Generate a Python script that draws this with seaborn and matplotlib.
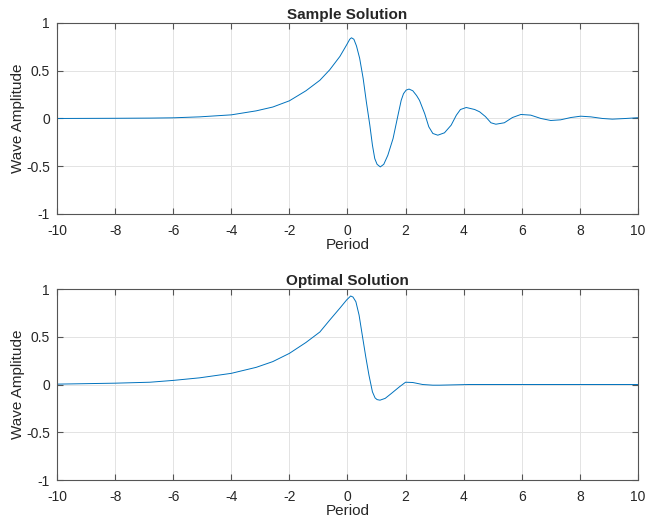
import seaborn as sns
import matplotlib
matplotlib.use('Agg')
import matplotlib.pyplot as plt
import pandas as pd

# values
sample_x = [-10, -8, -6.8, -6, -5.09, -4, -3.14, -2.57, -2, -1.43, -0.95, -0.61, -0.26,
            -0.03, 0.08, 0.137, 0.22, 0.31, 0.42, 0.54, 0.65, 0.77, 0.86, 0.94, 1.02, 1.13,
            1.25, 1.39, 1.57, 1.74, 1.85, 1.93, 2.02, 2.12, 2.25, 2.38, 2.48, 2.66, 2.8,
            2.94, 3.11, 3.34, 3.57, 3.75, 3.89, 4.09, 4.38, 4.55, 4.75, 4.94, 5.11, 5.4,
            5.68, 5.97, 6.31, 6.66, 7.0, 7.34, 7.69, 8.03, 8.38, 8.78, 9.12, 9.58, 10]
sample_y = [0.0, 0.002, 0.004, 0.007, 0.017, 0.038, 0.08, 0.12, 0.185, 0.29, 0.4, 0.51, 0.65,
            0.77, 0.83, 0.845, 0.83, 0.76, 0.63, 0.42, 0.175, -0.07, -0.28, -0.42, -0.48, -0.507,
            -0.48, -0.385, -0.21, 0.035, 0.19, 0.26, 0.297, 0.308, 0.29, 0.24, 0.19, 0.05, -0.087,
            -0.157, -0.175, -0.15, -0.07, 0.035, 0.094, 0.115, 0.094, 0.07, 0.02, -0.045, -0.06, -0.045,
            0.01, 0.042, 0.035, 0.0, -0.021, -0.014, 0.01, 0.024, 0.017, 0.0, -0.007, 0.0, 0.008]

optimal_x = [-10, -8, -6.8, -6, -5.09, -4, -3.14, -2.57, -2, -1.43, -0.95, -0.61, -0.26,
             -0.03, 0.11, 0.19, 0.29, 0.4, 0.51, 0.63, 0.74, 0.86, 0.95, 1.02, 1.12, 1.3,
             1.51, 1.79, 2.0, 2.25, 2.59, 2.94, 3.17, 4.17, 6, 8, 10]
optimal_y = [0.004, 0.014, 0.024, 0.043, 0.07, 0.117, 0.18, 0.24, 0.326, 0.44, 0.55, 0.675, 0.8,
             0.885, 0.927, 0.916, 0.867, 0.727, 0.517, 0.29, 0.098, -0.077, -0.14, -0.158, -0.164, -0.145,
             -0.094, -0.024, 0.024, 0.021, 0.0, -0.007, -0.007, 0.0, 0.0, 0.0, 0.0]

titles = ['Sample Solution', 'Optimal Solution']
xticks = list(range(-10, 11, 2))
yticks = [-1, -0.5, 0, 0.5, 1]
ytick_labels = ['-1', '-0.5', '0', '0.5', '1']

sns.set_style('whitegrid')
plt.rcParams['font.family'] = ['Liberation Sans', 'DejaVu Sans']

fig = plt.figure(figsize=(6.45, 5.2), dpi=100)
ax1 = fig.add_axes([0.0884, 0.5885, 0.9006, 0.3673])
ax2 = fig.add_axes([0.0884, 0.0769, 0.9006, 0.3673])

line_color = '#0072BD'
for ax, xs, ys, title in zip([ax1, ax2], [sample_x, optimal_x], [sample_y, optimal_y], titles):
    df = pd.DataFrame({'Period': xs, 'Wave Amplitude': ys})
    sns.lineplot(data=df, x='Period', y='Wave Amplitude', ax=ax, color=line_color,
                 linewidth=0.7, sort=False)
    ax.set_xlim(-10, 10)
    ax.set_ylim(-1, 1)
    ax.set_xticks(xticks)
    ax.set_xticklabels([str(t) for t in xticks])
    ax.set_yticks(yticks)
    ax.set_yticklabels(ytick_labels)
    ax.set_title(title, fontsize=11, fontweight='bold', pad=3)
    ax.set_xlabel('Period', fontsize=11, labelpad=0)
    ax.set_ylabel('Wave Amplitude', fontsize=11, labelpad=1)
    ax.grid(True, color='#e3e3e3', linewidth=0.7)
    ax.set_facecolor('white')
    for sp in ax.spines.values():
        sp.set_visible(True)
        sp.set_color('#555555')
        sp.set_linewidth(0.8)
    ax.tick_params(axis='both', direction='in', length=4, width=0.8, color='#555555',
                   labelsize=10, labelcolor='#262626', top=True, right=True,
                   bottom=True, left=True)
    ax.tick_params(axis='x', pad=7)
    ax.tick_params(axis='y', pad=5)

fig.savefig('out.png', dpi=100, facecolor='white')
